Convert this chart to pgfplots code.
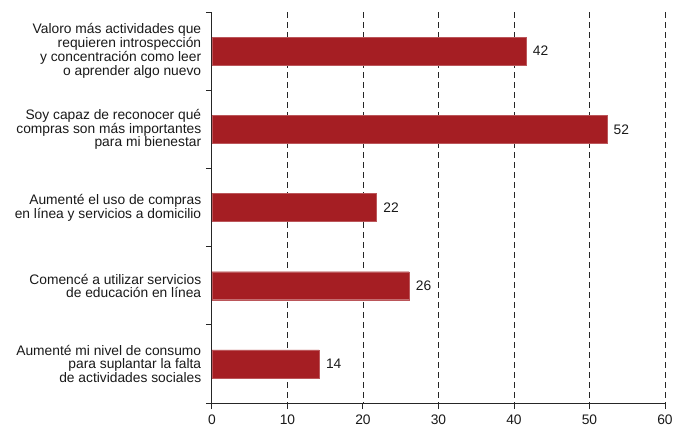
\documentclass[border=0pt]{standalone}
\usepackage{fontspec}
\setmainfont{Liberation Sans}
\usepackage{pgfplots}
\pgfplotsset{compat=1.18}
\definecolor{barred}{RGB}{165,30,35}
\begin{document}
\fontsize{13.8pt}{12.8pt}\selectfont
\begin{tikzpicture}
\begin{axis}[
  name=ax,
  scale only axis,
  width=453pt, height=391pt,
  xbar, bar width=28pt,
  xmin=0, xmax=60,
  ymin=-0.5, ymax=4.5,
  y dir=reverse,
  axis lines*=left,
  axis line style={black!85, line width=1pt},
  /pgf/number format/assume math mode=true,
  xtick={10,20,...,60},
  extra x ticks={0},
  extra x tick style={grid=none},
  tick align=outside,
  major tick length=6pt,
  tick style={black!85, line width=1pt},
  xmajorgrids,
  major grid style={black!85, dash pattern=on 6pt off 4pt, line width=0.8pt},
  ytick={-0.5,0.5,1.5,2.5,3.5,4.5},
  yticklabels={},
  extra y ticks={0,1,2,3,4},
  extra y tick labels={
    {Valoro más actividades que\\requieren introspección\\y concentración como leer\\o aprender algo nuevo},
    {Soy capaz de reconocer qué\\compras son más importantes\\para mi bienestar},
    {Aumenté el uso de compras\\en línea y servicios a domicilio},
    {Comencé a utilizar servicios\\de educación en línea},
    {Aumenté mi nivel de consumo\\para suplantar la falta\\de actividades sociales}},
  extra y tick style={grid=none, tick style={draw=none},
    yticklabel style={align=right, font=\fontsize{13.8pt}{12.8pt}\selectfont, text=black!90}},
  xticklabel style={font=\fontsize{13.8pt}{14pt}\selectfont, text=black!90, yshift=-1pt},
  point meta=explicit symbolic,
  nodes near coords,
  nodes near coords style={anchor=west, font=\fontsize{13.8pt}{14pt}\selectfont, text=black!90, xshift=2pt},
]
\addplot[fill=barred, draw=barred!75!white, line width=0.4pt] coordinates {
  (41.6,0) [42]
  (52.3,1) [52]
  (21.8,2) [22]
  (26.1,3) [26]
  (14.2,4) [14]
};
\end{axis}
\pgfresetboundingbox
\path[use as bounding box] ([shift={(-212pt,-25pt)}]ax.south west) rectangle ([shift={(11pt,12pt)}]ax.north east);
\end{tikzpicture}
\end{document}
